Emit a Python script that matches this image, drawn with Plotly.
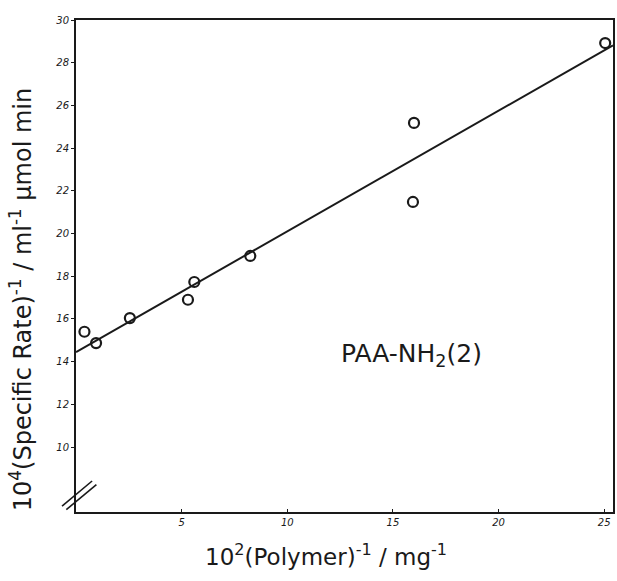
import plotly.graph_objects as go

# Reciprocal polymer amount (10^2 / mg) and reciprocal specific rate (10^4 / ml^-1 umol min)
inv_polymer = [0.4, 0.95, 2.55, 5.3, 5.6, 8.25, 16.0, 15.95, 25.05]
inv_rate = [15.4, 14.87, 16.04, 16.9, 17.73, 18.95, 25.18, 21.48, 28.92]

# Fitted straight line (intercept, slope) over the plotted x span
fit_intercept = 14.45
fit_slope = 0.565
fit_x = [0.0, 25.42]
fit_y = [fit_intercept + fit_slope * v for v in fit_x]

x_ticks = [5, 10, 15, 20, 25]
y_ticks = [10, 12, 14, 16, 18, 20, 22, 24, 26, 28, 30]

ink = "#1a1a1a"

fig = go.Figure()
fig.add_trace(go.Scatter(
    x=fit_x, y=fit_y, mode="lines",
    line=dict(color=ink, width=2), showlegend=False, hoverinfo="skip",
))
fig.add_trace(go.Scatter(
    x=inv_polymer, y=inv_rate, mode="markers",
    marker=dict(symbol="circle-open", size=10, color=ink, line=dict(width=2.2, color=ink)),
    showlegend=False,
))

tick_font = dict(family="DejaVu Sans", size=10, color=ink, style="italic")

fig.update_xaxes(
    range=[0, 25.42], tickvals=x_ticks, ticktext=[str(v) for v in x_ticks],
    showgrid=False, zeroline=False, showline=True, linecolor=ink, linewidth=2,
    mirror=True, ticks="inside", ticklen=3, tickcolor=ink, tickfont=tick_font,
)
fig.update_yaxes(
    range=[6.96, 30], tickvals=y_ticks, ticktext=[str(v) for v in y_ticks],
    showgrid=False, zeroline=False, showline=True, linecolor=ink, linewidth=2,
    mirror=True, ticks="outside", ticklen=3, tickcolor=ink, tickfont=tick_font,
)

# Axis break marks on the lower part of the y axis
for dx in (0.0, 0.008):
    fig.add_shape(
        type="line", xref="x domain", yref="y domain",
        x0=-0.026 + dx, y0=0.012 - dx * 0.9, x1=0.030 + dx, y1=0.063 - dx * 0.9,
        line=dict(color=ink, width=1.6),
    )

fig.add_annotation(
    text="PAA-NH<sub>2</sub>(2)", x=0.625, y=0.319, xref="x domain", yref="y domain",
    xanchor="center", yanchor="middle",
    showarrow=False, font=dict(family="DejaVu Sans", size=25, color=ink),
)
fig.add_annotation(
    text="10<sup>2</sup>(Polymer)<sup>-1</sup> / mg<sup>-1</sup>",
    x=0.466, y=-0.087, xref="x domain", yref="y domain",
    xanchor="center", yanchor="middle",
    showarrow=False, font=dict(family="DejaVu Sans", size=23, color=ink),
)
fig.add_annotation(
    text="10<sup>4</sup>(Specific Rate)<sup>-1</sup> / ml<sup>-1</sup> μmol min",
    x=-0.102, y=0.431, xref="x domain", yref="y domain", textangle=-90,
    xanchor="center", yanchor="middle",
    showarrow=False, font=dict(family="DejaVu Sans", size=24, color=ink),
)

fig.update_layout(
    width=617, height=581,
    margin=dict(l=76, r=2, t=20, b=69),
    paper_bgcolor="white", plot_bgcolor="white",
)

fig.write_html("out.html")
